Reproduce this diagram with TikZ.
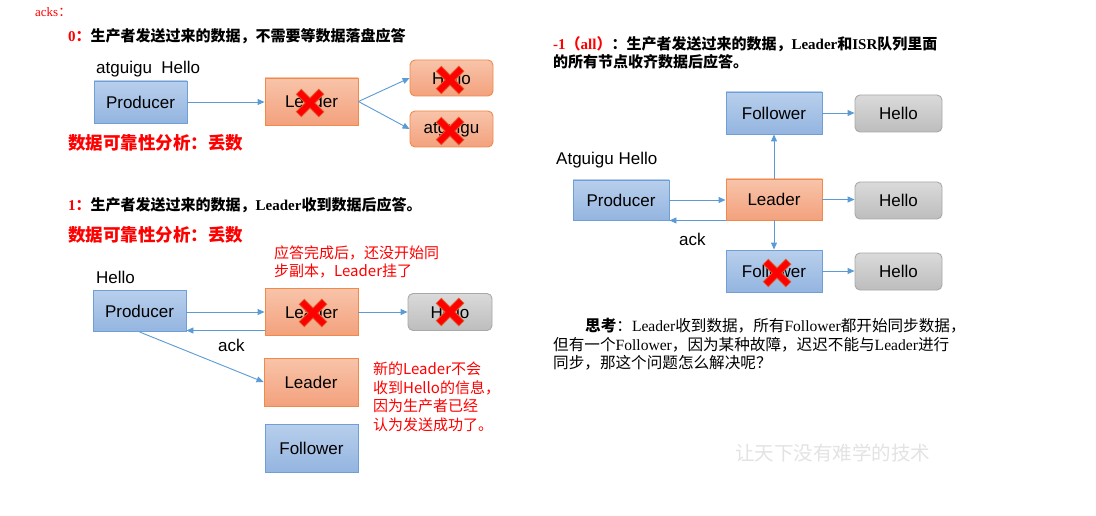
\documentclass[tikz,border=0pt]{standalone}
\usepackage{fontspec}
\setmainfont{Liberation Sans}
\newfontfamily\cjk{Noto Sans CJK SC}
\newfontfamily\serif{Liberation Serif}
\usetikzlibrary{arrows.meta}
\definecolor{bluebd}{HTML}{6E9FD6}
\definecolor{blueT}{HTML}{B8CFEC}
\definecolor{blueB}{HTML}{94B5E0}
\definecolor{orbd}{HTML}{F08A4B}
\definecolor{orT}{HTML}{F8C4AA}
\definecolor{orB}{HTML}{F3A17D}
\definecolor{grbd}{HTML}{A8A8A8}
\definecolor{grT}{HTML}{DADADA}
\definecolor{grB}{HTML}{BDBDBD}
\definecolor{arrc}{HTML}{5B9BD5}
\definecolor{xred}{HTML}{FF0000}
\definecolor{xedge}{HTML}{E2572A}
\definecolor{wm}{HTML}{E3E3E3}
\begin{document}
\begin{tikzpicture}[x=1pt,y=-1pt,
 box/.style={draw, line width=0.9pt, inner sep=0pt, font=\fontsize{17}{20}\selectfont, text=black},
 bluebox/.style={box, draw=bluebd, top color=blueT, bottom color=blueB},
 orbox/.style={box, draw=orbd, top color=orT, bottom color=orB},
 orrbox/.style={orbox, rounded corners=5pt},
 grbox/.style={box, draw=grbd, top color=grT, bottom color=grB, rounded corners=5pt},
 arr/.style={draw=arrc, line width=0.9pt, -{Triangle[length=7pt,width=6pt]}},
 lbl/.style={anchor=west, inner sep=0pt, font=\fontsize{17}{20}\selectfont},
 ttl/.style={anchor=west, inner sep=0pt, font=\cjk\bfseries\fontsize{15}{18}\selectfont},
 bigred/.style={anchor=west, inner sep=0pt, text=xred, font=\cjk\bfseries\fontsize{17.5}{20}\selectfont},
 note/.style={anchor=west, inner sep=0pt, text=xred, align=left, font=\cjk\fontsize{15}{18.5}\selectfont},
 para/.style={anchor=west, inner sep=0pt, font=\cjk\fontsize{15.6}{18}\selectfont},
 redx/.pic={\draw[line width=8pt, draw=xedge] (-11.5,-11.5)--(11.5,11.5) (-11.5,11.5)--(11.5,-11.5);
            \draw[line width=6pt, draw=xred] (-11,-11)--(11,11) (-11,11)--(11,-11);}
]
\useasboundingbox[fill=white] (0,0) rectangle (1096,516);

% header
\node[anchor=west, inner sep=0pt, text=xred, font=\serif\fontsize{13}{15}\selectfont] (acks) at (35,12) {acks{\cjk ：}};

% ---------- section 0 ----------
\node[ttl] (t0) at (68,36) {{\color{xred}{\serif 0}：}生产者发送过来的数据，不需要等数据落盘应答};
\node[lbl] (m0) at (96,69) {atguigu\ \ Hello};
\node[bluebox, minimum width=93pt, minimum height=42pt] (P0) at (140.5,102) {Producer};
\node[orbox, minimum width=93pt, minimum height=47pt] (L0) at (311.5,101.5) {Leader};
\node[orrbox, minimum width=83pt, minimum height=36pt] (H0a) at (451.5,78) {Hello};
\node[orrbox, minimum width=83pt, minimum height=36pt] (H0b) at (451.5,129) {atguigu};
\draw[arr] (P0.east) -- (L0.west |- P0.east);
\draw[arr] (L0.east) -- (H0a.west);
\draw[arr] (L0.east) -- (H0b.west);
\pic at (310,103) {redx};
\pic at (450,80) {redx};
\pic at (450,131) {redx};
\node[bigred] (r0) at (68,143) {数据可靠性分析：丢数};

% ---------- section 1 ----------
\node[ttl] (t1) at (68,205) {{\color{xred}{\serif 1}：}生产者发送过来的数据，{\serif Leader}收到数据后应答。};
\node[bigred] (r1) at (68,235) {数据可靠性分析：丢数};
\node[note] (n1) at (274,262) {应答完成后，还没开始同\\步副本，Leader挂了};
\node[lbl] (m1) at (96,277) {Hello};
\node[bluebox, minimum width=93pt, minimum height=41pt] (P1) at (139.5,311) {Producer};
\node[orbox, minimum width=93pt, minimum height=47pt] (L1) at (311.5,312) {Leader};
\node[grbox, minimum width=84pt, minimum height=37pt] (H1) at (450,312) {Hello};
\node[orbox, minimum width=94pt, minimum height=48pt] (NL1) at (311,382) {Leader};
\node[bluebox, minimum width=93pt, minimum height=48pt] (F1) at (311.5,448) {Follower};
\draw[arr] (P1.east |- L1.west) -- (L1.west);
\draw[arr] (L1.west |- 0,330.5) -- (P1.east |- 0,330.5);
\draw[arr] (L1.east) -- (H1.west);
\draw[arr] (P1.south) -- (NL1.west);
\node[lbl] (k1) at (218,345) {ack};
\pic at (313,313) {redx};
\pic at (450,312) {redx};
\node[note] (n2) at (373,397) {新的Leader不会\\收到Hello的信息，\\因为生产者已经\\认为发送成功了。};

% ---------- section -1 ----------
\node[ttl, align=left] (t2) at (553,52.5) {{\color{xred}{\serif -1}（{\serif all}）}：生产者发送过来的数据，{\serif Leader}和{\serif ISR}队列里面\\的所有节点收齐数据后应答。};
\node[bluebox, minimum width=96pt, minimum height=42pt] (F2t) at (774,113) {Follower};
\node[grbox, minimum width=87pt, minimum height=37pt] (H2t) at (898.5,113.5) {Hello};
\node[lbl] (m2) at (556,160) {Atguigu Hello};
\node[bluebox, minimum width=96pt, minimum height=40pt] (P2) at (621,200) {Producer};
\node[orbox, minimum width=96pt, minimum height=41pt] (L2) at (774,199.5) {Leader};
\node[grbox, minimum width=87pt, minimum height=37pt] (H2m) at (898.5,200.5) {Hello};
\node[bluebox, minimum width=96pt, minimum height=42pt] (F2b) at (774,271) {Follower};
\node[grbox, minimum width=87pt, minimum height=37pt] (H2b) at (898.5,271.5) {Hello};
\draw[arr] (P2.east) -- (L2.west |- P2.east);
\draw[arr] (L2.south west) -- (P2.east |- L2.south west);
\draw[arr] (L2.north) -- (F2t.south);
\draw[arr] (L2.south) -- (F2b.north);
\draw[arr] (F2t.east) -- (H2t.west |- F2t.east);
\draw[arr] (L2.east) -- (H2m.west |- L2.east);
\draw[arr] (F2b.east) -- (H2b.west |- F2b.east);
\node[lbl] (k2) at (679,239) {ack};
\pic at (777,273) {redx};

% thinking paragraph
\node[para] (p1) at (585,326) {{\bfseries 思考}：{\serif Leader}收到数据，所有{\serif Follower}都开始同步数据，};
\node[para] (p2) at (553,344.5) {但有一个{\serif Follower}，因为某种故障，迟迟不能与{\serif Leader}进行};
\node[para] (p3) at (553,363) {同步，那这个问题怎么解决呢？};

% watermark
\node[anchor=west, inner sep=0pt, text=wm, font=\cjk\fontsize{19.5}{22}\selectfont] (wmk) at (735,453) {让天下没有难学的技术};
\end{tikzpicture}
\end{document}
